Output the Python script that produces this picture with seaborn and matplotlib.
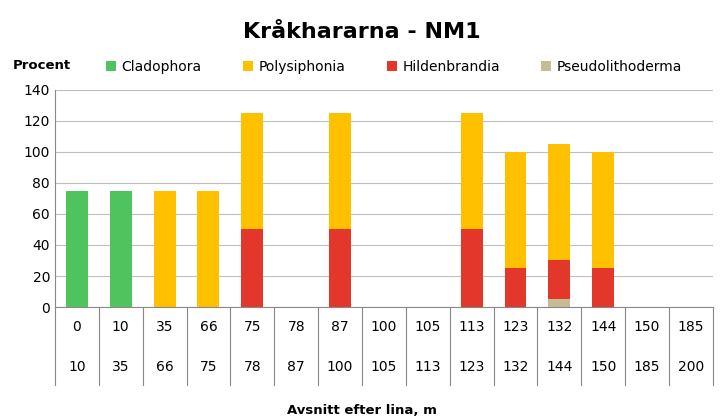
import matplotlib
matplotlib.use("Agg")
import matplotlib.pyplot as plt
import seaborn as sns
import numpy as np
import pandas as pd

# section start / end (m)
starts = ["0", "10", "35", "66", "75", "78", "87", "100", "105", "113", "123", "132", "144", "150", "185"]
ends = ["10", "35", "66", "75", "78", "87", "100", "105", "113", "123", "132", "144", "150", "185", "200"]

cladophora = [75, 75, 0, 0, 0, 0, 0, 0, 0, 0, 0, 0, 0, 0, 0]
polysiphonia = [0, 0, 75, 75, 75, 0, 75, 0, 0, 75, 75, 75, 75, 0, 0]
hildenbrandia = [0, 0, 0, 0, 50, 0, 50, 0, 0, 50, 25, 25, 25, 0, 0]
pseudolithoderma = [0, 0, 0, 0, 0, 0, 0, 0, 0, 0, 0, 5, 0, 0, 0]

colors = {"Cladophora": "#4FC45E", "Polysiphonia": "#FFC000",
          "Hildenbrandia": "#E2372A", "Pseudolithoderma": "#C4BC96"}

cats = [f"{a}-{b}" for a, b in zip(starts, ends)]
df = pd.DataFrame({"cat": cats})
df["pseudo"] = pseudolithoderma
df["hild"] = df["pseudo"] + np.array(hildenbrandia)
df["poly"] = df["hild"] + np.array(polysiphonia)
df["clad"] = df["poly"] + np.array(cladophora)

fig = plt.figure(figsize=(7.23, 4.2), dpi=100)
ax = fig.add_axes([0.076, 0.269, 0.91, 0.517])
ax.set_axisbelow(True)
ax.yaxis.grid(True, color="#BFBFBF", linewidth=0.8)

for col, name in [("clad", "Cladophora"), ("poly", "Polysiphonia"),
                  ("hild", "Hildenbrandia"), ("pseudo", "Pseudolithoderma")]:
    sns.barplot(data=df, x="cat", y=col, color=colors[name], width=0.5,
                saturation=1, ax=ax)

n = len(cats)
ax.set_xlim(-0.5, n - 0.5)
ax.set_ylim(0, 140)
ax.set_yticks(range(0, 141, 20))
ax.tick_params(axis="y", labelsize=10, length=0)
ax.tick_params(axis="x", length=0, labelbottom=False)
ax.set_xlabel("")
ax.set_ylabel("")
for s in ["top", "right"]:
    ax.spines[s].set_visible(False)
ax.spines["left"].set_color("#888888")
ax.spines["bottom"].set_color("#888888")

trans = ax.get_xaxis_transform()
for i in range(n):
    ax.text(i, -0.09, starts[i], transform=trans, ha="center", va="center", fontsize=10)
    ax.text(i, -0.275, ends[i], transform=trans, ha="center", va="center", fontsize=10)
for b in np.arange(-0.5, n, 1.0):
    ax.plot([b, b], [0, -0.36], transform=trans, color="#888888", lw=0.8, clip_on=False)

fig.text(0.5, 0.925, "Kråkhararna - NM1", ha="center", va="center", fontsize=16, fontweight="bold")
fig.text(0.017, 0.845, "Procent", ha="left", va="center", fontsize=9.5, fontweight="bold")
fig.text(0.5, 0.022, "Avsnitt efter lina, m", ha="center", va="center", fontsize=9.5, fontweight="bold")

handles = [plt.Rectangle((0, 0), 1, 1, fc=colors[k]) for k in colors]
fig.legend(handles, list(colors), loc="center", bbox_to_anchor=(0.545, 0.84), ncol=4,
           frameon=False, fontsize=10, handlelength=0.7, handleheight=0.7,
           columnspacing=3.0, handletextpad=0.4)

fig.savefig("out.png", dpi=100)
